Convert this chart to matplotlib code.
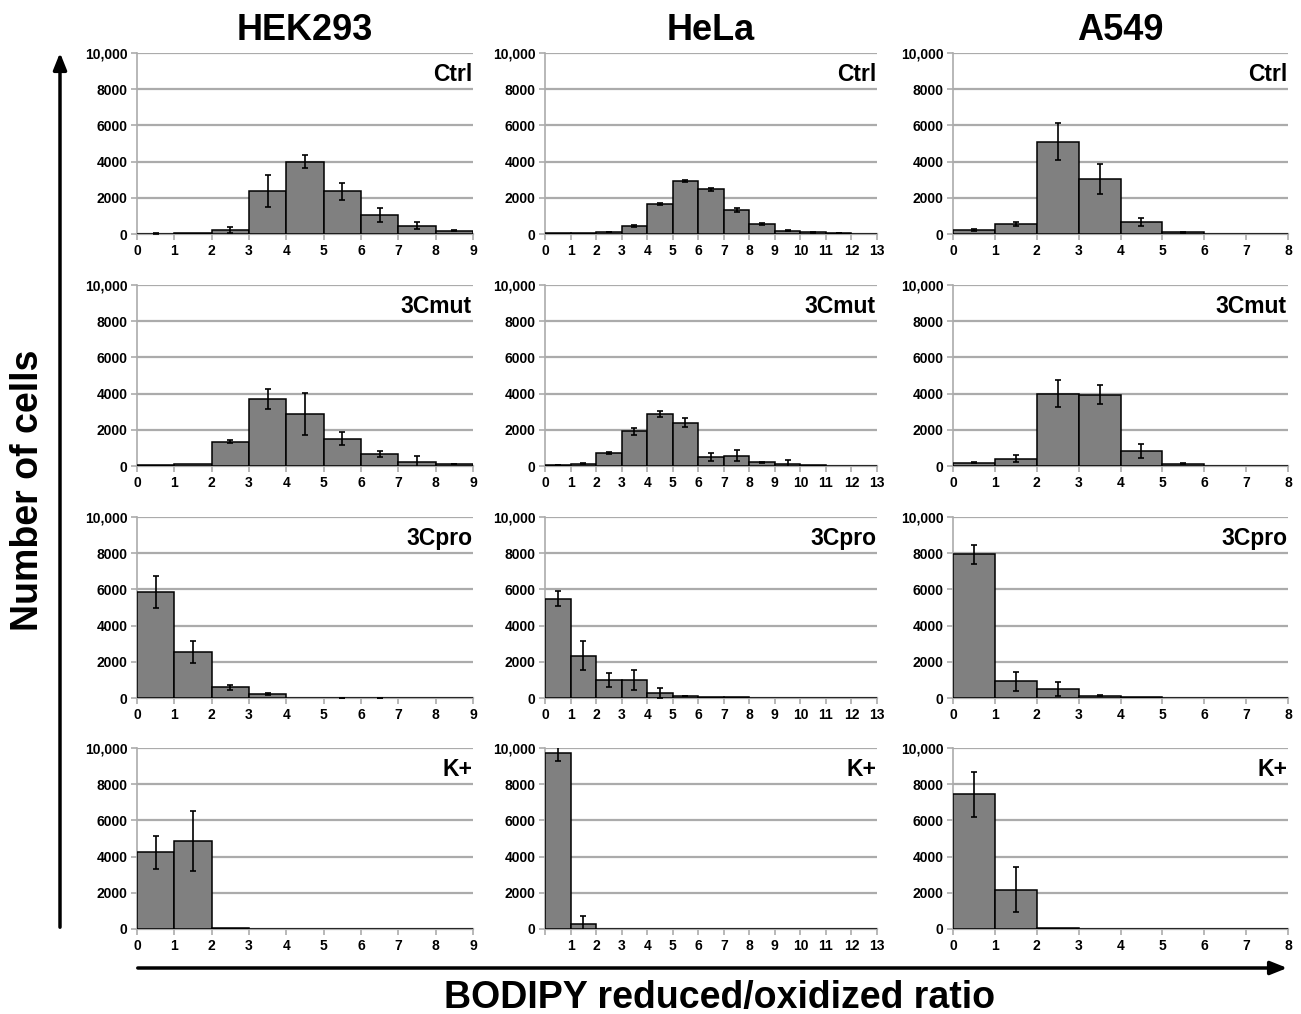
import matplotlib
matplotlib.use("Agg")
import matplotlib.pyplot as plt
import numpy as np

plt.rcParams['font.family'] = ['Liberation Sans', 'DejaVu Sans']
plt.rcParams['font.weight'] = 'bold'

cell_lines = ["HEK293", "HeLa", "A549"]
conditions = ["Ctrl", "3Cmut", "3Cpro", "K+"]
x_max = [9, 13, 8]

# counts per unit bin (0-1, 1-2, ...) and error bars, per cell line / condition
hek_ctrl = [20, 55, 220, 2360, 4000, 2360, 1070, 460, 170]
hek_ctrl_err = [15, 0, 150, 885, 370, 460, 390, 200, 30]
hek_mut = [30, 110, 1340, 3700, 2890, 1510, 660, 220, 110]
hek_mut_err = [0, 0, 90, 570, 1160, 360, 190, 320, 20]
hek_pro = [5870, 2550, 590, 220, 0, 10, 10, 0, 0]
hek_pro_err = [890, 620, 150, 30, 0, 5, 5, 0, 0]
hek_k = [4230, 4860, 60, 0, 0, 0, 0, 0, 0]
hek_k_err = [890, 1640, 0, 0, 0, 0, 0, 0, 0]

hela_ctrl = [50, 50, 110, 440, 1660, 2930, 2470, 1330, 550, 190, 90, 40, 0]
hela_ctrl_err = [0, 0, 20, 80, 80, 60, 80, 90, 50, 20, 10, 10, 0]
hela_mut = [70, 130, 740, 1910, 2890, 2390, 500, 570, 200, 90, 30, 20, 10]
hela_mut_err = [10, 20, 50, 170, 160, 250, 210, 290, 40, 220, 0, 0, 0]
hela_pro = [5480, 2330, 990, 990, 290, 110, 40, 30, 0, 0, 0, 0, 0]
hela_pro_err = [420, 800, 400, 550, 280, 20, 0, 0, 0, 0, 0, 0, 0]
hela_k = [9720, 280, 10, 0, 0, 0, 0, 0, 0, 0, 0, 0, 0]
hela_k_err = [420, 440, 0, 0, 0, 0, 0, 0, 0, 0, 0, 0, 0]

a549_ctrl = [220, 550, 5110, 3040, 650, 100, 0, 0]
a549_ctrl_err = [40, 100, 1010, 840, 210, 30, 0, 0]
a549_mut = [185, 400, 4000, 3940, 830, 130, 10, 0]
a549_mut_err = [40, 200, 760, 540, 410, 30, 0, 0]
a549_pro = [7950, 920, 500, 130, 30, 0, 10, 10]
a549_pro_err = [530, 540, 390, 40, 0, 0, 0, 0]
a549_k = [7440, 2160, 30, 0, 0, 0, 0, 0]
a549_k_err = [1230, 1240, 0, 0, 0, 0, 0, 0]

data = [
    [(hek_ctrl, hek_ctrl_err), (hek_mut, hek_mut_err), (hek_pro, hek_pro_err), (hek_k, hek_k_err)],
    [(hela_ctrl, hela_ctrl_err), (hela_mut, hela_mut_err), (hela_pro, hela_pro_err), (hela_k, hela_k_err)],
    [(a549_ctrl, a549_ctrl_err), (a549_mut, a549_mut_err), (a549_pro, a549_pro_err), (a549_k, a549_k_err)],
]

W, H = 1301, 1014
fig = plt.figure(figsize=(W / 100, H / 100), dpi=100)

col_left = [137, 545, 953]
col_width = [336, 332, 335]
row_top = [53, 285, 517, 748]
row_h = 181
grid_col = '#ababab'

for c in range(3):
    for r in range(4):
        vals, errs = data[c][r]
        ax = fig.add_axes([col_left[c] / W, 1 - (row_top[r] + row_h) / H,
                           col_width[c] / W, row_h / H])
        n = len(vals)
        x = np.arange(n)
        ax.bar(x, vals, width=1.0, align='edge', color='#808080',
               edgecolor='black', linewidth=1.1, zorder=3)
        e = np.array(errs)
        mask = e > 0
        ax.errorbar(x[mask] + 0.5, np.array(vals)[mask], yerr=e[mask], fmt='none',
                    ecolor='black', elinewidth=1.2, capsize=2.5, capthick=1.2, zorder=4)
        ax.set_xlim(0, x_max[c])
        ax.set_ylim(0, 10000)
        ax.set_yticks(range(0, 10001, 2000))
        ax.set_yticklabels(['0', '2000', '4000', '6000', '8000', '10,000'])
        ax.set_xticks(range(0, x_max[c] + 1))
        labels = [str(i) for i in range(0, x_max[c] + 1)]
        if c == 1 and r == 3:
            labels[0] = ''
        ax.set_xticklabels(labels)
        ax.yaxis.grid(True, color=grid_col, linewidth=1.6, zorder=0)
        ax.set_axisbelow(True)
        for s in ['top', 'right']:
            ax.spines[s].set_visible(False)
        ax.spines['left'].set_color(grid_col)
        ax.spines['bottom'].set_color(grid_col)
        ax.spines['left'].set_linewidth(1.2)
        ax.spines['bottom'].set_linewidth(1.6)
        ax.tick_params(axis='both', colors=grid_col, labelcolor='black',
                       labelsize=10, length=4, width=1.2)
        ax.tick_params(axis='x', pad=3)
        ax.tick_params(axis='y', pad=3)
        for lbl in ax.get_xticklabels() + ax.get_yticklabels():
            lbl.set_fontweight('bold')
        ax.text(0.997, 0.945, conditions[r], transform=ax.transAxes,
                ha='right', va='top', fontsize=16.5, fontweight='bold')

    fig.text((col_left[c] + col_width[c] / 2) / W, 1 - 30 / H, cell_lines[c],
             ha='center', va='center', fontsize=26, fontweight='bold')

# axis arrows
fig.add_artist(matplotlib.patches.FancyArrowPatch(
    (60 / W, 1 - 930 / H), (60 / W, 1 - 50 / H), transform=fig.transFigure,
    arrowstyle='-|>,head_length=10,head_width=4', color='black', linewidth=2.5,
    mutation_scale=1))
fig.add_artist(matplotlib.patches.FancyArrowPatch(
    (135 / W, 1 - 968 / H), (1290 / W, 1 - 968 / H), transform=fig.transFigure,
    arrowstyle='-|>,head_length=10,head_width=4', color='black', linewidth=2.5,
    mutation_scale=1))

fig.text(28 / W, 1 - 490 / H, "Number of cells", rotation=90, ha='center',
         va='center', fontsize=27, fontweight='bold')
fig.text(720 / W, 1 - 998 / H, "BODIPY reduced/oxidized ratio", ha='center',
         va='center', fontsize=27, fontweight='bold')

fig.savefig("out.png", dpi=100, facecolor='white')
